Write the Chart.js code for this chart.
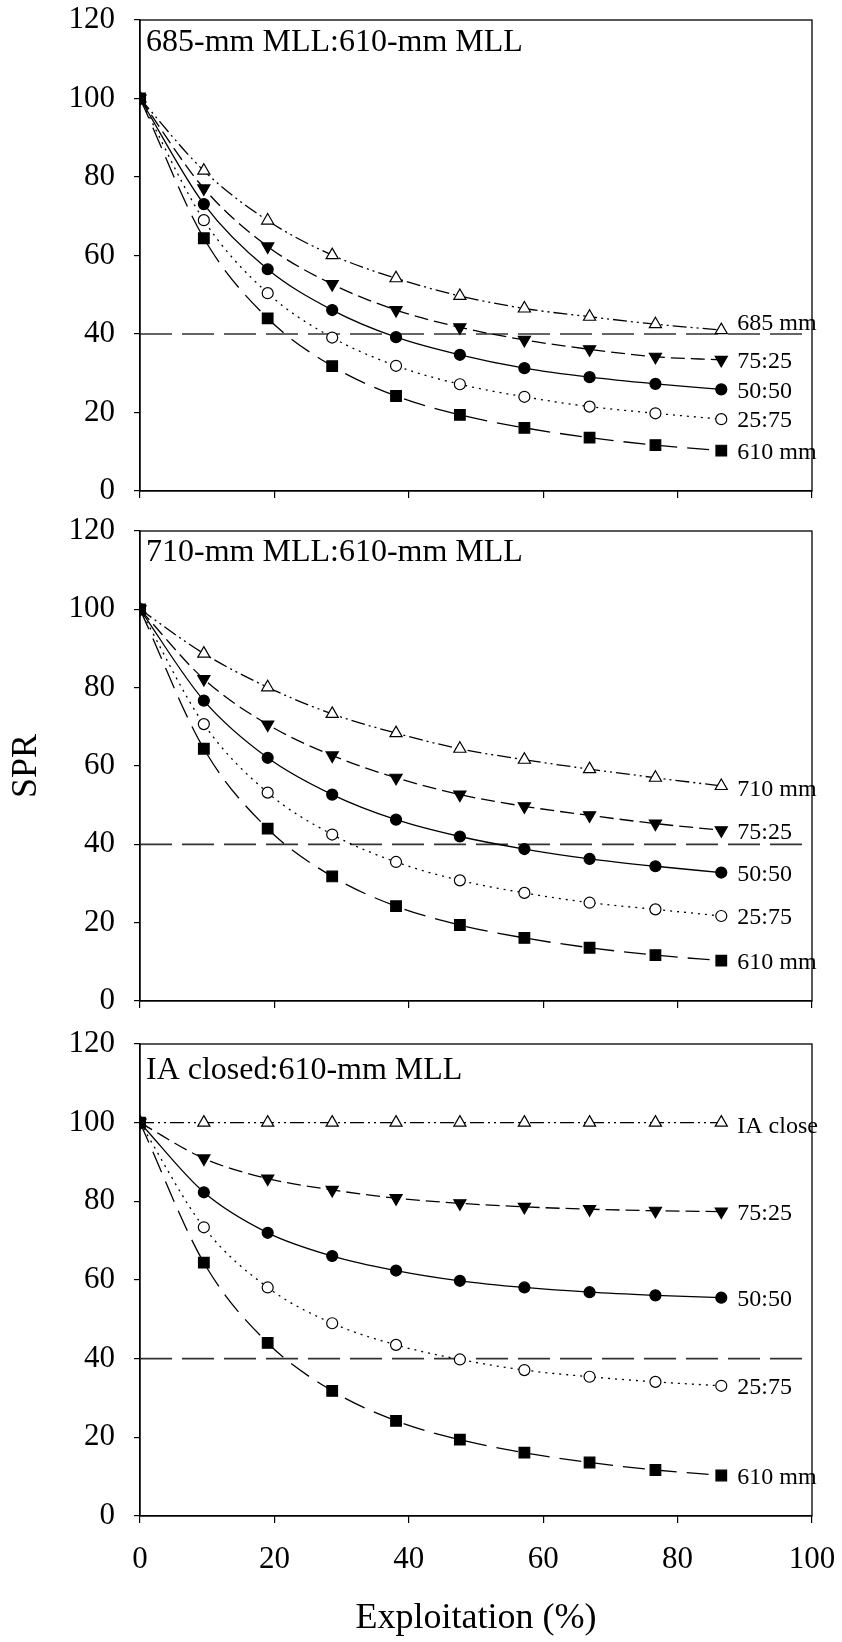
<!DOCTYPE html>
<html>
<head>
<meta charset="utf-8">
<script src="https://cdn.jsdelivr.net/npm/chart.js@4.4.1/dist/chart.umd.min.js"></script>
<style>
  html, body { margin: 0; padding: 0; background: #fff; }
  #wrap { position: relative; width: 842px; height: 1642px; }
  .panel { position: absolute; left: 0; width: 842px; }
</style>
</head>
<body>
<div id="wrap">
  <div class="panel" style="top:0;height:505px"><canvas id="panel1"></canvas></div>
  <div class="panel" style="top:505px;height:510px"><canvas id="panel2"></canvas></div>
  <div class="panel" style="top:1015px;height:627px"><canvas id="panel3"></canvas></div>
</div>
<script>
// exploitation rates (%) shared by every series
const exploitation = [0, 9.5, 19, 28.6, 38.1, 47.6, 57.2, 66.9, 76.7, 86.5];
const xTicks = [0, 20, 40, 60, 80, 100];
const yTicks = [0, 20, 40, 60, 80, 100, 120];
const threshold = 40;

// 610-mm MLL curve, identical in all three panels
const mll610 = [100, 64.4, 44.0, 31.8, 24.2, 19.4, 16.1, 13.6, 11.7, 10.3];

// panel 1: 685-mm MLL : 610-mm MLL
const p1Title = '685-mm MLL:610-mm MLL';
const p1Names = ['685 mm', '75:25', '50:50', '25:75', '610 mm'];
const p1Long  = [100, 81.6, 68.9, 60.1, 54.2, 49.7, 46.5, 44.4, 42.5, 41.0];
const p1Mix75 = [100, 77.1, 62.3, 52.7, 46.1, 41.7, 38.5, 36.1, 34.2, 33.4];
const p1Mix50 = [100, 73.1, 56.5, 46.1, 39.2, 34.7, 31.3, 29.0, 27.3, 25.9];
const p1Mix25 = [100, 69.0, 50.4, 39.1, 31.9, 27.2, 24.0, 21.5, 19.8, 18.3];

// panel 2: 710-mm MLL : 610-mm MLL
const p2Title = '710-mm MLL:610-mm MLL';
const p2Names = ['710 mm', '75:25', '50:50', '25:75', '610 mm'];
const p2Long  = [100, 88.7, 80.1, 73.3, 68.4, 64.4, 61.6, 59.2, 57.0, 54.9];
const p2Mix75 = [100, 82.2, 70.6, 62.7, 57.0, 52.7, 49.7, 47.4, 45.3, 43.6];
const p2Mix50 = [100, 76.7, 62.1, 52.7, 46.3, 42.0, 38.8, 36.3, 34.4, 32.8];
const p2Mix25 = [100, 70.7, 53.2, 42.5, 35.5, 30.8, 27.6, 25.1, 23.4, 21.7];

// panel 3: IA closed : 610-mm MLL
const p3Title = 'IA closed:610-mm MLL';
const p3Names = ['IA close', '75:25', '50:50', '25:75', '610 mm'];
const p3Long  = [100, 100, 100, 100, 100, 100, 100, 100, 100, 100];
const p3Mix75 = [100, 90.9, 85.8, 82.9, 80.8, 79.5, 78.6, 78.0, 77.6, 77.4];
const p3Mix50 = [100, 82.3, 72.0, 66.1, 62.4, 59.8, 58.1, 56.9, 56.1, 55.5];
const p3Mix25 = [100, 73.4, 58.1, 49.0, 43.5, 39.8, 37.1, 35.4, 34.1, 33.1];

const SERIF = '"Liberation Serif", "Times New Roman", Times, serif';

// marker / line look for each of the five series, top to bottom
const looks = [
  { pointStyle: 'triangle', rotation: 0,   radius: 7,   fill: '#fff', dash: [14, 4, 2, 4, 2, 4] },
  { pointStyle: 'triangle', rotation: 180, radius: 7,   fill: '#000', dash: [14, 6] },
  { pointStyle: 'circle',   rotation: 0,   radius: 5.5, fill: '#000', dash: [] },
  { pointStyle: 'circle',   rotation: 0,   radius: 5.5, fill: '#fff', dash: [2, 5] },
  { pointStyle: 'rect',     rotation: 0,   radius: 7.5, fill: '#000', dash: [22, 10] }
];

function toPoints(values) {
  return values.map((v, i) => ({ x: exploitation[i], y: v }));
}

const panelDecor = {
  id: 'panelDecor',
  afterDatasetsDraw(chart, args, opts) {
    const { ctx, chartArea, scales: { x, y } } = chart;
    ctx.save();
    // box around the plot
    ctx.strokeStyle = '#000';
    ctx.lineWidth = 1.3;
    ctx.strokeRect(chartArea.left, chartArea.top, chartArea.right - chartArea.left, chartArea.bottom - chartArea.top);

    // series labels at the right end of each curve
    ctx.fillStyle = '#000';
    ctx.textAlign = 'left';
    ctx.textBaseline = 'middle';
    ctx.font = '24px ' + SERIF;
    chart.data.datasets.forEach(ds => {
      if (!ds.endLabel) return;
      const last = ds.data[ds.data.length - 1];
      ctx.fillText(ds.endLabel, x.getPixelForValue(last.x) + 16, y.getPixelForValue(last.y) + 2 + (ds.labelShift || 0));
    });

    // panel heading
    ctx.font = '32px ' + SERIF;
    ctx.fillText(opts.title, chartArea.left + 6, chartArea.top + opts.titleDy);
    ctx.restore();
  }
};

function makePanel(canvasId, cfg) {
  const datasets = cfg.series.map((vals, i) => {
    const lk = looks[i];
    return {
      label: cfg.names[i],
      endLabel: cfg.names[i],
      labelShift: i === 0 ? cfg.firstShift : 0,
      data: toPoints(vals),
      borderColor: '#000',
      borderWidth: 1.3,
      borderDash: lk.dash,
      cubicInterpolationMode: 'monotone',
      pointStyle: lk.pointStyle,
      pointRotation: lk.rotation,
      pointRadius: lk.radius,
      pointBackgroundColor: lk.fill,
      pointBorderColor: '#000',
      pointBorderWidth: 1.2,
      order: i === 2 ? 0 : 1
    };
  });
  datasets.push({
    label: 'threshold',
    data: [{ x: xTicks[0], y: threshold }, { x: xTicks[xTicks.length - 1], y: threshold }],
    borderColor: '#333',
    borderWidth: 1.6,
    borderDash: [32, 10],
    pointRadius: 0,
    order: 2
  });

  return new Chart(document.getElementById(canvasId), {
    type: 'line',
    data: { datasets },
    plugins: [panelDecor],
    options: {
      responsive: true,
      maintainAspectRatio: false,
      animation: false,
      devicePixelRatio: 1,
      layout: { padding: { top: cfg.padTop, right: 30, left: 0, bottom: 0 } },
      plugins: {
        legend: { display: false },
        tooltip: { enabled: false },
        panelDecor: { title: cfg.title, titleDy: cfg.titleDy }
      },
      scales: {
        x: {
          type: 'linear',
          min: 0,
          max: 100,
          afterBuildTicks: s => { s.ticks = xTicks.map(v => ({ value: v })); },
          afterFit: s => { s.height = cfg.xHeight; s.paddingLeft = 0; s.paddingRight = 0; },
          ticks: {
            display: cfg.showX,
            color: '#000',
            padding: 18,
            font: { family: SERIF, size: 31 }
          },
          grid: { drawOnChartArea: false, drawTicks: true, tickLength: 7, color: '#000', lineWidth: 1.2 },
          border: { color: '#000', width: 1.3 },
          title: {
            display: cfg.showX,
            text: 'Exploitation (%)',
            color: '#000',
            font: { family: SERIF, size: 36 },
            padding: { top: 0, bottom: 2 }
          }
        },
        y: {
          min: 0,
          max: 120,
          afterBuildTicks: s => { s.ticks = yTicks.map(v => ({ value: v })); },
          afterFit: s => { s.width = 140; s.paddingTop = 0; s.paddingBottom = 0; },
          ticks: {
            color: '#000',
            padding: 19,
            font: { family: SERIF, size: 31 }
          },
          grid: { drawOnChartArea: false, drawTicks: true, tickLength: 6, color: '#000', lineWidth: 1.2 },
          border: { color: '#000', width: 1.3 },
          title: {
            display: cfg.showY,
            text: 'SPR',
            color: '#000',
            font: { family: SERIF, size: 36 },
            padding: { top: 5, bottom: 0 }
          }
        }
      }
    }
  });
}

makePanel('panel1', {
  title: p1Title, names: p1Names,
  series: [p1Long, p1Mix75, p1Mix50, p1Mix25, mll610],
  padTop: 20, xHeight: 14, titleDy: 23, firstShift: -8,
  showX: false, showY: false
});
makePanel('panel2', {
  title: p2Title, names: p2Names,
  series: [p2Long, p2Mix75, p2Mix50, p2Mix25, mll610],
  padTop: 26, xHeight: 14, titleDy: 22, firstShift: 2,
  showX: false, showY: true
});
makePanel('panel3', {
  title: p3Title, names: p3Names,
  series: [p3Long, p3Mix75, p3Mix50, p3Mix25, mll610],
  padTop: 29, xHeight: 126, titleDy: 27, firstShift: 2,
  showX: true, showY: false
});
</script>
</body>
</html>
